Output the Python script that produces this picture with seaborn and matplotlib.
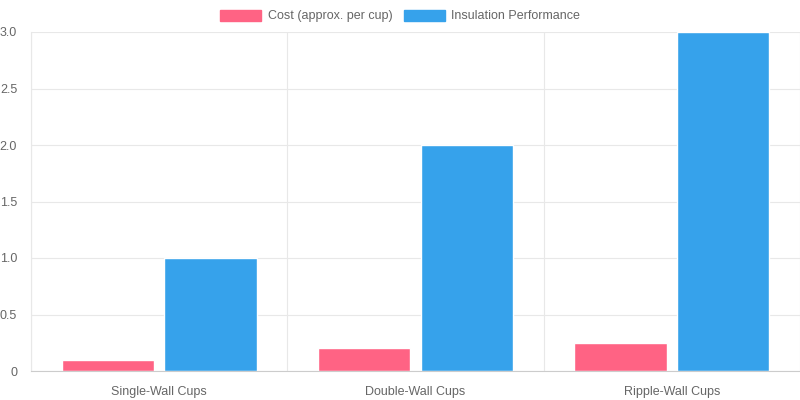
import pandas as pd
import seaborn as sns
import matplotlib.pyplot as plt

categories = ['Single-Wall Cups', 'Double-Wall Cups', 'Ripple-Wall Cups']
cost = [0.1, 0.2, 0.25]
insulation = [1, 2, 3]
series_names = ['Cost (approx. per cup)', 'Insulation Performance']
colors = ['#FF6384', '#36A2EB']

df = pd.DataFrame({
    'category': categories * 2,
    'series': [series_names[0]] * 3 + [series_names[1]] * 3,
    'value': cost + insulation,
})

sns.set_theme(style='white')
plt.rcParams['font.family'] = ['Liberation Sans', 'DejaVu Sans']

fig = plt.figure(figsize=(8, 4), dpi=100)
ax = fig.add_axes([31 / 800, 29 / 400, 769 / 800, 339 / 400])

sns.barplot(data=df, x='category', y='value', hue='series', palette=colors,
            width=0.8, gap=0.1, saturation=1, ax=ax, legend=False)

ax.set_xlim(-0.5, 2.5)
ax.set_ylim(0, 3)
ax.set_yticks([0, 0.5, 1.0, 1.5, 2.0, 2.5, 3.0])
ax.set_yticklabels(['0', '0.5', '1.0', '1.5', '2.0', '2.5', '3.0'])
ax.set_xticks([-0.5, 0.5, 1.5, 2.5], minor=True)
ax.set_xlabel('')
ax.set_ylabel('')

ax.grid(True, axis='y', color='#e8e8e8', linewidth=0.8)
ax.grid(True, axis='x', which='minor', color='#e8e8e8', linewidth=0.8)
ax.set_axisbelow(True)
ax.tick_params(axis='x', which='major', length=0, pad=11, labelsize=9, labelcolor='#666666')
ax.tick_params(axis='x', which='minor', length=8, color='#e8e8e8', width=0.8)
ax.tick_params(axis='y', length=0, pad=10, labelsize=9, labelcolor='#666666')

for s in ['top', 'right']:
    ax.spines[s].set_visible(False)
ax.spines['left'].set_color('#e8e8e8')
ax.spines['left'].set_linewidth(0.8)
ax.spines['bottom'].set_color('#cccccc')
ax.spines['bottom'].set_linewidth(0.8)

handles = [plt.Rectangle((0, 0), 1, 1, color=c) for c in colors]
fig.legend(handles, series_names, loc='center', bbox_to_anchor=(0.5, 1 - 16 / 400),
           ncol=2, frameon=False, fontsize=9, labelcolor='#666666',
           handlelength=3.3, handleheight=1.0, handletextpad=0.5, columnspacing=0.9)

fig.savefig('out.png', dpi=100)
